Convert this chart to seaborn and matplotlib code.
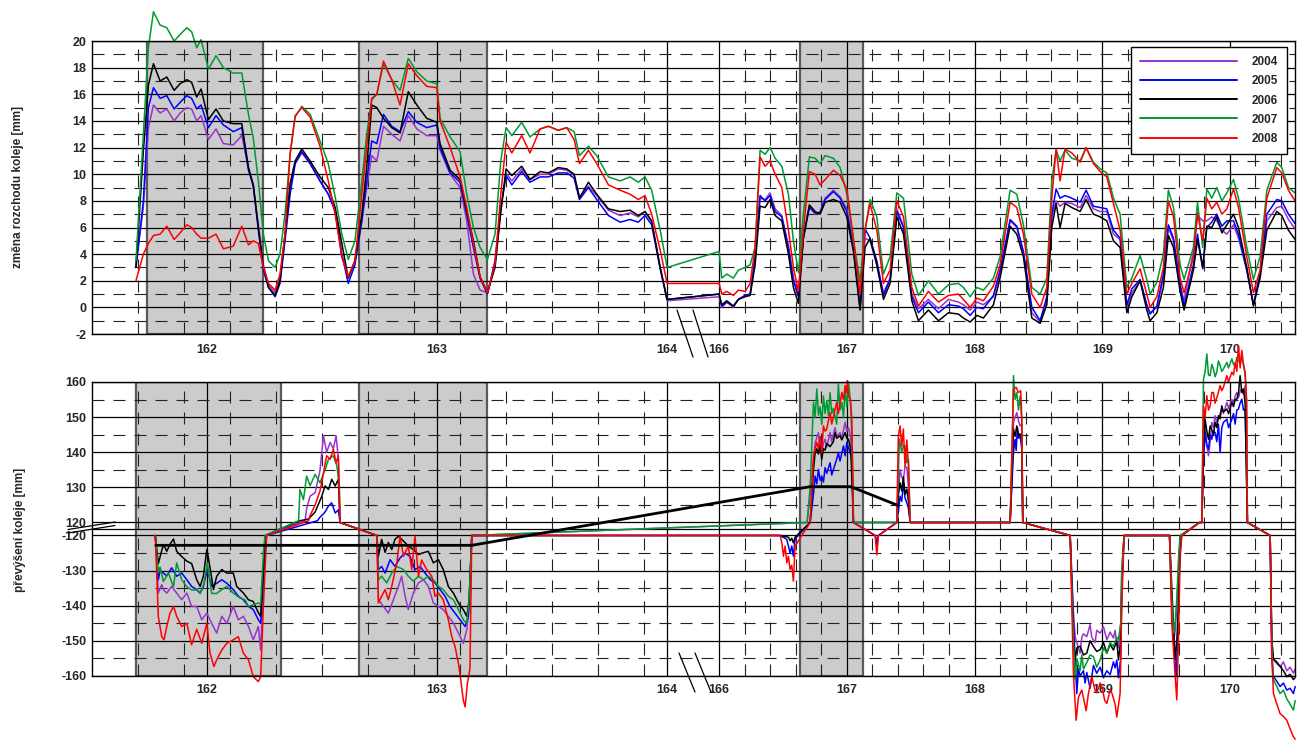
import numpy as np
import pandas as pd
import matplotlib
matplotlib.use("Agg")
import matplotlib.pyplot as plt
from matplotlib.lines import Line2D
import seaborn as sns

years = ["2004", "2005", "2006", "2007", "2008"]
colors = ["#9933cc", "#0000ff", "#000000", "#009933", "#ff0000"]

# --- top panel: track gauge change [mm], one shared km grid ---
km_top = [161.691, 161.723, 161.745, 161.767, 161.796, 161.825, 161.857, 161.883, 161.912, 161.933,
          161.955, 161.974, 162.006, 162.039, 162.071, 162.114, 162.151, 162.180, 162.201, 162.223,
          162.245, 162.267, 162.296, 162.317, 162.339, 162.361, 162.383, 162.412, 162.448, 162.491,
          162.527, 162.557, 162.586, 162.614, 162.643, 162.673, 162.694, 162.716, 162.738, 162.767,
          162.803, 162.839, 162.875, 162.912, 162.955, 162.999,
          163.013, 163.057, 163.100, 163.129, 163.158, 163.187, 163.219, 163.252, 163.277, 163.300,
          163.325, 163.368, 163.404, 163.448, 163.484, 163.527, 163.564, 163.596, 163.619, 163.658,
          163.694, 163.745, 163.796, 163.839, 163.875, 163.904, 163.933, 163.970, 164.001,
          166.000, 166.021, 166.060, 166.112, 166.151, 166.204, 166.243, 166.282, 166.321, 166.360,
          166.399, 166.439, 166.491, 166.543, 166.582, 166.621, 166.660, 166.707, 166.752, 166.791,
          166.830, 166.895, 166.948, 167.000, 167.052, 167.104, 167.143, 167.182, 167.235, 167.287,
          167.339, 167.392, 167.444, 167.509, 167.561, 167.639, 167.718, 167.796, 167.874, 167.913,
          167.966, 168.018, 168.070,
          168.148, 168.200, 168.279, 168.331, 168.383, 168.449, 168.514, 168.566, 168.605, 168.639,
          168.670, 168.709, 168.762, 168.827, 168.874, 168.931, 168.984, 169.036, 169.088, 169.140,
          169.193, 169.232, 169.297, 169.349, 169.375, 169.428, 169.479, 169.518, 169.558, 169.610,
          169.641, 169.714, 169.746, 169.787, 169.819, 169.858, 169.897, 169.937, 169.976, 170.028,
          170.067, 170.132, 170.184, 170.236, 170.289, 170.367, 170.406, 170.458, 170.510]

gauge_2004 = [3.2, 7.5, 13.5, 15.2, 14.6, 14.9, 14.0, 14.6, 15.0, 14.9,
              14.0, 14.4, 12.6, 13.4, 12.3, 12.2, 12.9, 10.5, 9.0, 6.2,
              3.2, 1.7, 1.1, 2.0, 5.3, 8.8, 10.8, 11.6, 10.8, 9.5,
              8.5, 7.3, 3.8, 2.3, 3.5, 6.5, 9.0, 11.4, 11.0, 13.6,
              13.0, 12.5, 14.4, 13.4, 12.9, 12.9,
              11.8, 10.0, 9.0, 6.5, 2.5, 1.3, 1.1, 3.2, 7.2, 10.1,
              9.5, 10.4, 9.6, 10.0, 10.0, 10.4, 10.3, 9.9, 8.3, 9.1,
              8.4, 7.3, 6.9, 7.1, 6.8, 7.2, 6.4, 3.0, 0.5,
              0.8, 0.0, 0.4, 0.0, 0.6, 0.9, 1.0, 3.6, 8.2, 8.1,
              8.6, 7.4, 6.9, 4.6, 2.2, 0.9, 5.3, 7.6, 7.0, 7.2,
              8.2, 8.8, 8.3, 7.4, 4.6, 0.0, 5.2, 5.0, 3.2, 1.1,
              2.2, 7.4, 6.1, 1.0, -0.1, 0.6, -0.1, 0.6, 0.4, 0.2,
              -0.2, 0.4, 0.2,
              0.8, 2.5, 6.5, 6.0, 4.1, -0.4, -1.1, 0.5, 6.8, 8.0,
              7.6, 7.9, 7.8, 7.5, 8.4, 7.4, 7.2, 7.2, 5.5, 5.1,
              0.0, 1.1, 2.0, 0.1, -0.4, 0.0, 2.2, 6.0, 5.0, 1.6,
              0.5, 4.2, 6.9, 6.5, 6.5, 6.8, 6.5, 5.8, 5.5, 6.2,
              5.2, 2.8, 0.2, 2.5, 6.5, 7.5, 7.6, 6.6, 5.9]

gauge_2005 = [3.0, 8.0, 15.0, 16.5, 15.7, 15.9, 14.9, 15.4, 15.9, 15.7,
              14.9, 15.2, 13.5, 14.4, 13.7, 13.2, 13.5, 10.3, 9.2, 5.8,
              2.8, 1.5, 0.8, 1.8, 5.0, 8.5, 10.8, 11.7, 10.8, 9.5,
              8.5, 7.2, 4.0, 1.8, 3.2, 6.5, 9.5, 12.5, 12.3, 14.5,
              13.6, 13.2, 14.7, 13.9, 13.5, 13.7,
              12.0, 10.1, 9.4, 7.0, 4.5, 2.2, 1.0, 3.5, 7.5, 9.9,
              9.2, 10.2, 9.4, 9.8, 9.8, 10.1, 10.1, 9.7, 8.1, 9.0,
              8.1, 6.9, 6.4, 6.6, 6.4, 6.9, 6.2, 2.9, 0.6,
              1.0, 0.1, 0.4, 0.1, 0.6, 0.9, 1.0, 3.8, 8.4, 8.0,
              8.4, 7.2, 6.8, 4.5, 2.0, 0.8, 5.2, 7.5, 7.1, 7.1,
              8.1, 8.7, 8.2, 7.2, 4.5, -0.1, 5.9, 5.2, 3.5, 0.9,
              2.1, 7.2, 6.0, 0.8, -0.4, 0.4, -0.4, 0.2, 0.1, -0.1,
              -0.6, 0.0, -0.1,
              0.9, 2.8, 6.6, 6.1, 4.2, 0.0, -1.0, 0.8, 7.0, 8.9,
              8.2, 8.4, 8.2, 7.9, 8.8, 7.6, 7.5, 7.4, 5.8, 5.2,
              0.2, 1.4, 2.1, 0.2, -0.5, 0.1, 2.5, 6.2, 5.2, 1.8,
              0.1, 3.2, 5.5, 2.9, 6.0, 6.4, 7.0, 6.1, 6.5, 6.5,
              5.5, 2.8, 0.2, 2.5, 7.0, 8.1, 8.0, 7.0, 6.3]

gauge_2006 = [3.0, 11.7, 16.7, 18.3, 17.0, 17.3, 16.3, 16.8, 17.1, 16.9,
              15.8, 16.4, 14.1, 14.9, 14.0, 13.8, 13.8, 10.5, 9.2, 6.0,
              3.0, 1.5, 0.9, 2.0, 5.5, 9.3, 11.0, 11.9, 11.0, 9.8,
              9.0, 7.5, 4.8, 2.2, 3.5, 7.0, 10.5, 15.2, 15.0, 14.2,
              13.5, 13.1, 16.2, 15.2, 14.2, 13.9,
              12.3, 10.3, 9.6, 7.2, 5.0, 2.3, 1.1, 3.0, 7.2, 10.4,
              9.9, 10.6, 9.6, 10.2, 10.1, 10.5, 10.4, 10.0, 8.2, 9.4,
              8.5, 7.4, 7.2, 7.3, 6.9, 7.2, 6.5, 3.0, 0.6,
              1.0, 0.2, 0.5, 0.1, 0.6, 0.8, 0.9, 3.2, 7.6, 7.5,
              8.1, 6.9, 6.5, 4.0, 1.5, 0.3, 5.2, 7.7, 7.2, 7.0,
              7.9, 8.1, 7.9, 6.8, 4.2, -0.2, 4.5, 5.2, 3.2, 0.6,
              1.8, 6.8, 5.5, 0.5, -1.0, -0.2, -1.0, -0.4, -0.5, -0.8,
              -1.1, -0.6, -0.8,
              0.2, 2.2, 6.1, 5.5, 3.8, -0.8, -1.2, 0.2, 6.0, 7.8,
              6.0, 7.8, 7.5, 7.2, 8.1, 7.0, 6.8, 6.5, 5.0, 4.5,
              -0.4, 0.8, 2.0, -0.2, -1.0, -0.4, 1.5, 5.4, 4.5, 1.2,
              -0.2, 2.8, 5.1, 3.0, 6.1, 6.0, 6.8, 5.6, 6.2, 7.0,
              6.0, 3.0, 0.1, 2.2, 5.8, 7.2, 6.9, 5.8, 5.1]

gauge_2007 = [3.5, 13.0, 19.5, 22.2, 21.2, 21.0, 20.0, 20.5, 21.0, 20.7,
              19.5, 20.1, 17.9, 18.9, 18.0, 17.6, 17.6, 14.5, 12.7, 9.5,
              5.5, 3.5, 3.0, 4.0, 7.0, 11.5, 14.3, 15.1, 14.5, 12.5,
              10.8, 8.3, 5.5, 3.6, 5.0, 9.5, 13.0, 15.6, 16.0, 18.3,
              17.1, 16.3, 18.7, 17.7, 17.0, 16.8,
              14.2, 12.8, 11.7, 8.5, 6.0, 4.5, 3.6, 5.5, 11.0, 13.5,
              12.9, 13.9, 12.8, 13.4, 13.6, 13.3, 13.5, 13.2, 11.4, 12.1,
              11.4, 9.8, 9.5, 9.8, 9.4, 9.8, 8.8, 5.8, 3.0,
              4.2, 2.2, 2.5, 2.2, 2.8, 3.0, 3.2, 4.5, 11.8, 11.5,
              12.0, 11.2, 10.6, 8.5, 5.0, 2.6, 7.0, 11.3, 11.2, 10.8,
              11.4, 11.2, 10.5, 8.5, 5.0, 2.0, 5.8, 8.1, 6.8, 2.5,
              3.8, 8.6, 8.2, 2.5, 0.9, 2.0, 1.0, 1.7, 1.8, 1.5,
              0.8, 1.5, 1.3,
              2.2, 3.8, 8.8, 8.5, 6.2, 1.5, 1.0, 2.2, 9.5, 11.8,
              11.0, 11.8, 11.2, 11.0, 12.0, 10.9, 10.4, 10.1, 8.2, 7.0,
              1.5, 2.2, 3.9, 2.1, 1.0, 1.9, 4.0, 8.8, 7.5, 3.2,
              2.1, 4.5, 7.9, 4.5, 8.9, 8.2, 9.0, 8.0, 8.6, 9.6,
              8.2, 4.5, 2.1, 3.8, 8.8, 10.9, 10.5, 9.0, 8.6]

gauge_2008 = [2.0, 4.0, 4.8, 5.4, 5.5, 6.1, 5.1, 5.6, 6.2, 6.0,
              5.5, 5.2, 5.2, 5.5, 4.4, 4.6, 6.1, 4.7, 5.0, 4.8,
              3.0, 1.8, 1.3, 2.5, 5.5, 11.5, 14.4, 15.0, 14.3, 12.1,
              9.5, 7.0, 3.8, 2.3, 3.5, 8.5, 12.0, 15.7, 16.0, 18.5,
              17.1, 15.2, 18.3, 17.4, 16.6, 16.5,
              14.0, 12.0, 9.8, 7.5, 4.8, 2.3, 1.1, 3.3, 8.5, 12.4,
              11.6, 12.9, 11.6, 13.4, 13.6, 13.3, 13.5, 12.6, 10.8, 11.8,
              10.8, 9.2, 8.8, 8.5, 8.1, 8.4, 7.0, 4.3, 1.8,
              1.8, 1.0, 1.2, 0.9, 1.3, 1.2, 1.8, 4.5, 11.3, 10.6,
              11.0, 10.0, 9.0, 5.8, 3.0, 1.2, 5.8, 10.2, 10.0, 9.2,
              9.6, 10.3, 9.9, 8.9, 5.2, 1.0, 5.8, 7.8, 5.8, 1.8,
              2.8, 8.0, 6.8, 1.5, 0.1, 1.2, 0.4, 0.9, 1.0, 0.6,
              0.0, 0.7, 0.5,
              1.6, 3.2, 7.9, 7.5, 5.5, 1.0, 0.0, 1.5, 8.2, 11.9,
              9.5, 11.9, 11.6, 10.9, 12.0, 10.8, 10.2, 9.8, 7.8, 5.8,
              1.0, 1.8, 2.9, 1.0, 0.0, 0.8, 3.0, 8.0, 6.8, 2.2,
              1.1, 3.8, 7.1, 5.0, 8.2, 7.4, 7.9, 7.0, 7.4, 8.9,
              7.5, 3.8, 1.1, 2.8, 8.2, 10.5, 10.1, 8.8, 8.0]

# --- bottom panel: cant [mm], one km list per year ---
cant_km_2004 = [161.775, 161.788, 161.803, 161.810, 161.825, 161.846, 161.868, 161.890, 161.912, 161.933,
                161.955, 161.977, 161.999, 162.020, 162.042, 162.064, 162.086, 162.114, 162.136, 162.158,
                162.180, 162.201, 162.223, 162.233, 162.245, 162.255, 162.426,
                162.433, 162.448, 162.470, 162.491, 162.506, 162.520, 162.535, 162.549, 162.561, 162.571, 162.578, 162.738,
                162.745, 162.767, 162.788, 162.810, 162.832, 162.846, 162.861, 162.875, 162.897, 162.919,
                162.941, 162.962, 162.984, 163.006, 163.027, 163.049, 163.071, 163.093, 163.114, 163.129, 163.140, 163.151,
                166.689,
                166.713, 166.752, 166.765, 166.778, 166.791, 166.804, 166.817, 166.830, 166.843, 166.869,
                166.882, 166.908, 166.921, 166.947, 166.961, 166.987, 167.000, 167.013, 167.031, 167.046, 167.052,
                167.222, 167.235, 167.248, 167.391,
                167.404, 167.417, 167.430, 167.443, 167.456, 167.470, 167.483, 167.496,
                168.279, 168.300, 168.305, 168.318, 168.331, 168.344, 168.357, 168.370, 168.378, 168.749,
                168.775, 168.788, 168.801, 168.827, 168.840, 168.853, 168.879, 168.905, 168.918, 168.944,
                168.957, 168.984, 169.010, 169.036, 169.062, 169.088, 169.101, 169.114, 169.127, 169.145, 169.153, 169.171,
                169.527, 169.545, 169.558, 169.571, 169.584, 169.600, 169.615, 169.761, 169.780,
                169.793, 169.806, 169.819, 169.832, 169.845, 169.858, 169.871, 169.884, 169.897, 169.910,
                169.923, 169.936, 169.949, 169.976, 169.989, 170.015, 170.028, 170.041, 170.054, 170.067,
                170.080, 170.093, 170.106, 170.119, 170.130, 170.137,
                170.315, 170.328, 170.341, 170.367, 170.393, 170.419, 170.445, 170.471, 170.497, 170.511]
cant_2004 = [-120, -136.4, -134, -135.4, -136.4, -134.5, -136.4, -138.3, -136.4, -140.2,
             -140.2, -144, -142.1, -145, -147.8, -143, -145, -140.2, -144, -143,
             -145.9, -149.7, -145.9, -152.6, -135, -120, 120.5,
             124, 127.5, 128.5, 134.8, 144.7, 140, 142.8, 141, 144.7, 138, 120, -120,
             -138.3, -140.2, -142.1, -138.3, -134.5, -131.6, -137.3, -141.1, -136.4, -133.5,
             -132.6, -134.5, -139.2, -140.2, -141.1, -143, -144.9, -147.8, -150.7, -146.9, -140, -120,
             120,
             128, 142.8, 144, 145.6, 141, 139.9, 142.5, 143.7, 141.5, 145.6,
             143, 147, 144.5, 145.6, 144, 148.5, 146, 147, 144, 132, 120,
             -120, -121.5, -120, 120,
             128, 135.1, 133, 132.2, 136, 135.6, 130, 120,
             120, 140, 148.5, 150, 151.3, 149, 147.5, 148, 120, -120,
             -142, -148.8, -150.5, -153.5, -149, -148, -148.8, -145.4, -149, -150.5,
             -147, -147.8, -146, -149.7, -147.5, -149.2, -147, -151, -152, -145, -130, -120,
             -120, -140, -150.7, -147, -140, -126, -120, 120, 120,
             140, 146.6, 142, 139, 143, 148.5, 147, 150.4, 148.5, 149.5,
             151, 152.3, 151, 154.2, 152.5, 155, 154, 156, 157, 155.5,
             157.5, 158, 156.5, 159, 150, 120,
             -120, -150, -155.4, -156.5, -157.3, -156, -158.5, -157.5, -159.2, -158]

cant_km_2005 = [161.775, 161.788, 161.796, 161.810, 161.825, 161.846, 161.868, 161.890, 161.912, 161.933,
                161.955, 161.970, 161.984, 162.001, 162.020, 162.042, 162.064, 162.086, 162.114, 162.136,
                162.158, 162.180, 162.201, 162.223, 162.233, 162.245, 162.259, 162.480,
                162.491, 162.499, 162.513, 162.528, 162.542, 162.557, 162.571, 162.578, 162.738,
                162.745, 162.759, 162.774, 162.796, 162.817, 162.839, 162.861, 162.883, 162.904, 162.926,
                162.948, 162.970, 162.991, 163.013, 163.035, 163.056, 163.078, 163.100, 163.122, 163.136, 163.151,
                166.478, 166.530, 166.556, 166.569, 166.582, 166.595, 166.713,
                166.739, 166.752, 166.765, 166.778, 166.791, 166.804, 166.817, 166.830, 166.843, 166.869,
                166.882, 166.895, 166.921, 166.934, 166.947, 166.974, 166.987, 167.000, 167.026, 167.039, 167.052,
                167.222, 167.235, 167.248, 167.391,
                167.404, 167.417, 167.430, 167.443, 167.456, 167.470, 167.483, 167.496,
                168.279, 168.305, 168.318, 168.326, 168.336, 168.344, 168.357, 168.370, 168.378, 168.749,
                168.775, 168.801, 168.814, 168.827, 168.853, 168.866, 168.879, 168.905, 168.931, 168.957,
                168.984, 169.010, 169.036, 169.062, 169.088, 169.101, 169.114, 169.127, 169.145, 169.153, 169.171,
                169.527, 169.545, 169.558, 169.579, 169.590, 169.605, 169.620, 169.761, 169.780,
                169.793, 169.806, 169.819, 169.832, 169.845, 169.858, 169.871, 169.884, 169.897, 169.910,
                169.923, 169.936, 169.949, 169.976, 169.989, 170.015, 170.028, 170.041, 170.054, 170.067,
                170.080, 170.093, 170.106, 170.119, 170.137,
                170.315, 170.328, 170.341, 170.367, 170.393, 170.419, 170.445, 170.471, 170.497, 170.511]
cant_2005 = [-120, -132.6, -130, -130.7, -131.5, -129.2, -131.6, -130.7, -132.6, -134.5,
             -135.4, -136.4, -134.5, -129.7, -134.5, -133.6, -132.6, -133.6, -135.4, -137.3,
             -138.3, -140.2, -141.1, -144, -145, -132, -120, 120.5,
             121.5, 122, 123, 124.7, 125.6, 122.7, 123.6, 120, -120,
             -129.7, -128.8, -130.7, -126.9, -128.8, -126.4, -125, -126, -129.7, -128.8,
             -130.7, -132.6, -133.5, -135.4, -137.3, -140.2, -142.1, -144, -145.9, -143, -120,
             -120, -121.1, -125, -123, -125.9, -121, 120,
             128, 133.2, 131, 135.1, 132, 133.2, 131.5, 135.6, 134, 137,
             133.5, 135.1, 138, 139.9, 137.5, 141.8, 139, 142.8, 139.9, 138, 120,
             -120, -122.5, -120, 120,
             123, 127.5, 126, 131.3, 127, 125.6, 124, 120,
             120, 140, 143.7, 140.5, 147, 144, 144.5, 141, 120, -120,
             -145, -165, -158, -160, -158.5, -162, -159, -163.5, -157, -159.2,
             -157.5, -160.5, -158.5, -159.6, -156, -157.7, -155.5, -160.5, -155, -135, -120,
             -120, -140, -150, -160.2, -150, -130, -120, 120, 120,
             138, 145.6, 142, 140.9, 145, 143.7, 146, 145.6, 143, 148,
             139.9, 147, 148.5, 149.4, 147, 149.4, 151, 148, 152, 152.3,
             154, 155.1, 152, 152.3, 120,
             -120, -155, -160.2, -161.5, -163, -162, -164, -163.5, -165, -163]

cant_km_2006 = [161.775, 161.788, 161.796, 161.810, 161.825, 161.839, 161.854, 161.868, 161.890, 161.912,
                161.933, 161.955, 161.970, 161.984, 161.999, 162.010, 162.028, 162.042, 162.064, 162.086,
                162.114, 162.129, 162.158, 162.180, 162.201, 162.223, 162.233, 162.245, 162.252, 162.404,
                162.441, 162.470, 162.499, 162.513, 162.528, 162.542, 162.557, 162.571, 162.578, 162.738,
                162.745, 162.759, 162.774, 162.788, 162.803, 162.817, 162.832, 162.854, 162.875, 162.897,
                162.919, 162.941, 162.962, 162.984, 163.006, 163.027, 163.049, 163.071, 163.093, 163.114,
                163.129, 163.140, 163.151,
                166.478, 166.543, 166.556, 166.569, 166.582, 166.595, 166.713,
                166.739, 166.752, 166.765, 166.778, 166.791, 166.804, 166.817, 166.830, 166.843, 166.869,
                166.895, 166.908, 166.921, 166.947, 166.961, 166.987, 167.000, 167.013, 167.031, 167.052,
                167.391, 167.404, 167.417, 167.430, 167.443, 167.456, 167.470, 167.483, 167.496,
                168.279, 168.305, 168.318, 168.331, 168.344, 168.357, 168.370, 168.378, 168.749,
                168.775, 168.788, 168.801, 168.827, 168.853, 168.879, 168.905, 168.931, 168.957, 168.984,
                169.010, 169.036, 169.062, 169.088, 169.114, 169.127, 169.145, 169.153, 169.171,
                169.527, 169.545, 169.558, 169.571, 169.584, 169.597, 169.610, 169.623, 169.761, 169.780,
                169.793, 169.806, 169.819, 169.832, 169.845, 169.858, 169.871, 169.884, 169.897, 169.910,
                169.923, 169.936, 169.949, 169.976, 169.989, 170.015, 170.028, 170.041, 170.054, 170.067,
                170.080, 170.093, 170.106, 170.119, 170.137,
                170.315, 170.328, 170.341, 170.367, 170.393, 170.419, 170.445, 170.471, 170.497, 170.511]
cant_2006 = [-120, -128, -126, -122.6, -124.5, -122.5, -121, -124.5, -126, -127.3,
             -128, -132.6, -134.5, -131.6, -124, -128, -135.4, -131.6, -129.7, -130.7,
             -130.7, -134.5, -136.4, -138.3, -138.8, -142, -143, -130, -120, 120.5,
             121, 123, 127.5, 130.4, 129.4, 132.3, 130.4, 132.3, 120, -120,
             -125.9, -121.1, -124.8, -122, -124, -121.1, -120.2, -121.6, -123, -124,
             -125.4, -124.9, -124.5, -127.8, -126.9, -129.7, -134.5, -136.4, -139.2, -141.1,
             -143, -138.3, -120,
             -120, -120.5, -121.5, -120.8, -122.1, -120.5, 120,
             135, 139.9, 141, 139.5, 142, 138, 141, 140.6, 142.5, 141.6,
             143, 145.6, 144, 144.7, 143.5, 145.6, 144, 143.7, 140.9, 120,
             120, 128, 131.3, 129, 133, 128, 129.5, 126, 120,
             120, 146.6, 144.5, 147.5, 145, 145.2, 144, 120, -120,
             -150, -155.4, -152, -151.5, -154, -153.5, -150, -151.6, -153, -152.5,
             -150.5, -153.5, -151, -152.6, -150, -155.4, -150, -135, -120,
             -120, -135, -145, -155.4, -150, -140, -120, -120, 120, 120,
             142, 149.4, 146, 143.7, 147.5, 146.5, 145, 148.5, 147, 150.4,
             149.5, 153.2, 151.5, 152.3, 151, 154.2, 153, 155, 155.1, 157,
             161.8, 157, 158, 154, 120,
             -120, -150, -155.2, -156, -157.3, -158.5, -160.2, -159.5, -161, -160.5]

cant_km_2007 = [161.775, 161.788, 161.796, 161.810, 161.832, 161.854, 161.868, 161.890, 161.912, 161.933,
                161.955, 161.970, 161.987, 162.001, 162.020, 162.042, 162.064, 162.086, 162.114, 162.143,
                162.165, 162.180, 162.201, 162.223, 162.233, 162.245, 162.252, 162.398,
                162.404, 162.419, 162.433, 162.448, 162.470, 162.491, 162.513, 162.528, 162.549, 162.564,
                162.575, 162.578, 162.738,
                162.745, 162.759, 162.781, 162.803, 162.825, 162.854, 162.875, 162.897, 162.919, 162.941,
                162.962, 162.984, 163.006, 163.027, 163.049, 163.071, 163.093, 163.114, 163.129, 163.140,
                163.151, 166.689,
                166.713, 166.739, 166.752, 166.765, 166.778, 166.791, 166.804, 166.817, 166.830, 166.843,
                166.856, 166.869, 166.882, 166.895, 166.921, 166.934, 166.947, 166.961, 166.974, 166.987,
                167.000, 167.013, 167.031, 167.046, 167.052,
                167.391, 167.412, 167.430, 167.443, 167.456, 167.470, 167.483, 167.496,
                168.279, 168.300, 168.305, 168.318, 168.331, 168.344, 168.357, 168.370, 168.378, 168.749,
                168.775, 168.788, 168.801, 168.827, 168.840, 168.853, 168.879, 168.905, 168.931, 168.957,
                168.984, 169.010, 169.036, 169.062, 169.088, 169.114, 169.127, 169.145, 169.153, 169.171,
                169.527, 169.545, 169.558, 169.571, 169.584, 169.600, 169.610, 169.761, 169.780,
                169.793, 169.806, 169.819, 169.832, 169.845, 169.858, 169.871, 169.884, 169.897, 169.910,
                169.923, 169.936, 169.949, 169.976, 169.989, 170.015, 170.028, 170.041, 170.054, 170.067,
                170.080, 170.093, 170.106, 170.119, 170.130, 170.137,
                170.315, 170.328, 170.341, 170.367, 170.393, 170.419, 170.445, 170.471, 170.497, 170.511]
cant_2007 = [-120, -130.7, -129, -133.1, -130.7, -134.6, -127.8, -132.6, -134.6, -135.5,
             -135.5, -136.5, -133.6, -127.8, -136.5, -136.5, -135.4, -134.5, -136.4, -137.8,
             -138.3, -140.2, -139.7, -139.2, -139.7, -125, -120, 120.5,
             129.4, 126.5, 133.2, 130.5, 133.7, 131.3, 135, 138, 139, 136.2,
             130.5, 120, -120,
             -132.6, -131.6, -133.5, -130.7, -128.8, -129.7, -131.6, -133, -131.6, -132.6,
             -131.6, -132.6, -134.5, -135.4, -137.3, -138.3, -141.1, -144, -145, -137.3,
             -120, 120,
             130, 154.2, 150, 158, 150.5, 153, 148, 156, 151, 154.7,
             150.5, 157, 151, 152.5, 148, 159.4, 152, 154.2, 150, 158,
             153, 160, 154, 135, 120,
             120, 143.7, 139.9, 142, 141.8, 137, 138, 120,
             120, 150, 161.8, 155, 157, 152, 156, 149, 120, -120,
             -150, -161, -155, -158.5, -154, -158, -156.2, -154, -154.5, -157.5,
             -155.4, -152, -153.5, -150.5, -151.6, -149, -149.7, -145, -130, -120,
             -120, -138, -147.8, -145, -138, -125, -120, 120, 120,
             160.9, 163, 168, 162, 161.8, 165, 163.7, 161.5, 162.8, 166,
             164.7, 163, 163.7, 165.6, 164, 166.6, 165, 164.7, 167, 166,
             165.6, 166.6, 165, 162, 155, 120,
             -120, -152, -161.1, -163, -165, -164, -166.5, -168, -169.7, -167]

cant_km_2008 = [161.775, 161.788, 161.796, 161.803, 161.813, 161.825, 161.839, 161.854, 161.868, 161.890,
                161.912, 161.933, 161.955, 161.977, 161.999, 162.013, 162.030, 162.042, 162.064, 162.086,
                162.114, 162.136, 162.158, 162.180, 162.201, 162.223, 162.233, 162.245, 162.259, 162.441,
                162.448, 162.470, 162.491, 162.506, 162.520, 162.535, 162.549, 162.561, 162.571, 162.578,
                162.738,
                162.745, 162.759, 162.774, 162.788, 162.803, 162.825, 162.839, 162.854, 162.875, 162.890,
                162.904, 162.919, 162.933, 162.955, 162.977, 162.991, 163.006, 163.027, 163.049, 163.064,
                163.078, 163.093, 163.103, 163.114, 163.122, 163.132, 163.143, 163.151,
                166.478, 166.491, 166.504, 166.517, 166.530, 166.543, 166.556, 166.569, 166.582, 166.595, 166.713,
                166.739, 166.765, 166.778, 166.791, 166.804, 166.817, 166.830, 166.843, 166.856, 166.869,
                166.882, 166.895, 166.921, 166.934, 166.961, 166.974, 166.987, 167.000, 167.005, 167.013,
                167.026, 167.039, 167.052,
                167.222, 167.235, 167.248, 167.391,
                167.404, 167.417, 167.430, 167.443, 167.456, 167.470, 167.483, 167.496,
                168.279, 168.300, 168.305, 168.326, 168.344, 168.362, 168.370, 168.378, 168.749,
                168.775, 168.796, 168.814, 168.840, 168.874, 168.892, 168.918, 168.944, 168.957, 168.984,
                168.997, 169.020, 169.036, 169.062, 169.075, 169.101, 169.114, 169.140, 169.153, 169.171,
                169.527, 169.545, 169.571, 169.584, 169.597, 169.610, 169.625, 169.761, 169.780,
                169.793, 169.806, 169.819, 169.832, 169.845, 169.858, 169.871, 169.884, 169.897, 169.910,
                169.923, 169.936, 169.949, 169.976, 169.989, 170.015, 170.028, 170.041, 170.054, 170.067,
                170.080, 170.093, 170.106, 170.119, 170.130, 170.137,
                170.315, 170.328, 170.341, 170.367, 170.393, 170.419, 170.445, 170.471, 170.497, 170.511]
cant_2008 = [-120, -143, -146, -148.8, -149.7, -145.9, -142.1, -140.2, -143, -145.9,
             -145, -151.1, -146.7, -150.7, -145, -153.5, -157.3, -155.4, -152.6, -150.7,
             -149.7, -148.8, -153.5, -155.4, -160.2, -161.6, -160.2, -140, -120, 120.5,
             122, 125, 129, 134, 139, 138, 140.9, 137, 139, 120,
             -120,
             -139.2, -137.3, -135.4, -138.3, -134.5, -127.8, -120.2, -125.9, -123, -129.7,
             -120.2, -131.6, -127, -129.7, -131.6, -137.3, -136.4, -138.3, -144, -148.8,
             -151.6, -156.4, -161.1, -166.9, -168.8, -162, -158, -120,
             -120, -122, -125.9, -123, -127.8, -125.9, -129.7, -128.5, -133, -123, 120,
             139, 142.8, 141, 144.5, 140, 147.5, 146, 146.6, 149, 151.3,
             148, 150, 154.2, 151, 157, 155, 159, 157, 160.4, 156,
             155, 150, 120,
             -120, -125.5, -120, 120,
             144.7, 147.5, 141.8, 146.6, 136, 143.5, 136, 120,
             120, 150, 158, 158.5, 157, 157.5, 150, 120, -120,
             -160, -172.6, -166, -164, -169.9, -165, -160.2, -164, -164.8, -162,
             -162.9, -167, -167.8, -164, -164.8, -168, -171.7, -165, -140, -120,
             -120, -145, -160, -166.8, -150, -125, -120, 120, 120,
             153.2, 150, 156.1, 152, 153.2, 157, 157, 154, 155.5, 157,
             159, 157.5, 158.5, 161.8, 160, 162.8, 162, 165.6, 163, 170.4,
             164, 169, 165, 162.8, 155, 120,
             -120, -155, -165, -168, -170.7, -171.5, -172.6, -175, -177.3, -178]

# thick black line of the design cant
design_km = [161.777, 163.151, 166.713, 167.031, 167.398]
design_cant = [-122.8, -122.8, 130.2, 130.2, 124.9]

# grey shaded sections (km from, km to)
shade_top = [(161.739, 162.243), (162.662, 163.216), (166.634, 167.130)]
shade_bottom = [(161.691, 162.322), (162.662, 163.216), (166.634, 167.130)]

tick_km = [162, 163, 164, 166, 167, 168, 169, 170]


# piecewise x axis: km 164-166 squeezed into a short gap
def km_fwd(km):
    km = np.asarray(km, dtype=float)
    return np.where(km <= 164, (km - 161.5) * 230.0,
                    np.where(km <= 166, 575.0 + (km - 164) * 26.0,
                             627.0 + (km - 166) * 127.7))


def km_inv(p):
    p = np.asarray(p, dtype=float)
    return np.where(p <= 575, 161.5 + p / 230.0,
                    np.where(p <= 627, 164 + (p - 575) / 26.0,
                             166 + (p - 627) / 127.7))


# broken cant axis: -120..120 squeezed into a thin band
def cant_fwd(v):
    v = np.asarray(v, dtype=float)
    return np.where(v >= 120, v - 116.3,
                    np.where(v <= -120, v + 120, (v + 120) * 3.7 / 240.0))


def cant_inv(p):
    p = np.asarray(p, dtype=float)
    return np.where(p >= 3.7, p + 116.3,
                    np.where(p <= 0, p - 120, p * 240.0 / 3.7 - 120))


sns.set_theme(style="white")
plt.rcParams["font.family"] = ["Liberation Sans", "DejaVu Sans"]
plt.rcParams["font.weight"] = "bold"
plt.rcParams["axes.unicode_minus"] = False

fig = plt.figure(figsize=(13, 7.4), dpi=100)
ax1 = fig.add_axes([0.0708, 0.5486, 0.9254, 0.3959])
ax2 = fig.add_axes([0.0708, 0.0865, 0.9254, 0.3973])

for ax in (ax1, ax2):
    ax.set_xscale("function", functions=(km_fwd, km_inv))
ax2.set_yscale("function", functions=(cant_fwd, cant_inv))

gauge = [gauge_2004, gauge_2005, gauge_2006, gauge_2007, gauge_2008]
cant_km = [cant_km_2004, cant_km_2005, cant_km_2006, cant_km_2007, cant_km_2008]
cant = [cant_2004, cant_2005, cant_2006, cant_2007, cant_2008]

for vals, c in zip(gauge, colors):
    sns.lineplot(x=km_top, y=vals, color=c, linewidth=1.1, estimator=None,
                 sort=False, legend=False, ax=ax1)
for xs, vals, c in zip(cant_km, cant, colors):
    sns.lineplot(x=xs, y=vals, color=c, linewidth=1.1, estimator=None,
                 sort=False, legend=False, ax=ax2)
sns.lineplot(x=design_km, y=design_cant, color="black", linewidth=2.0,
             estimator=None, sort=False, legend=False, ax=ax2)

for ax in (ax1, ax2):
    for ln in ax.lines:
        ln.set_clip_on(False)

for ax, spans in ((ax1, shade_top), (ax2, shade_bottom)):
    for a, b in spans:
        ax.axvspan(a, b, facecolor="#cccccc", edgecolor="#5a5a5a", lw=1.6, zorder=0.2)

minor_km = [round(161.5 + 0.2 * i, 1) for i in range(1, 13)] + \
           [round(166 + 0.2 * i, 1) for i in range(1, 23)]
minor_km = [k for k in minor_km if abs(k - round(k)) > 1e-6]

dash = (0, (10.8, 8.1))
for ax in (ax1, ax2):
    ax.set_xlim(161.5, 170.51)
    ax.set_xticks(tick_km)
    ax.set_xticklabels([str(k) for k in tick_km])
    ax.set_xticks(minor_km, minor=True)
    ax.grid(which="major", color="black", lw=0.9, ls="-")
    ax.grid(which="minor", color="#222222", lw=0.8, ls=dash)
    ax.set_axisbelow(True)
    ax.tick_params(which="both", length=0, labelsize=9)
    ax.tick_params(axis="y", pad=4)
    for sp in ax.spines.values():
        sp.set_color("black")
        sp.set_linewidth(1.0)
    ax.set_xlabel("")
    ax.set_ylabel("")

ax1.set_ylim(-2, 20)
ax1.set_yticks(range(-2, 21, 2))
ax1.set_yticks(range(-1, 20, 2), minor=True)
ax1.tick_params(axis="x", pad=7.5)

ax2.set_ylim(-160, 160)
ax2.set_yticks([-160, -150, -140, -130, -120, 120, 130, 140, 150, 160])
ax2.set_yticks([-155, -145, -135, -125, 125, 135, 145, 155], minor=True)
ax2.tick_params(axis="x", pad=5.5)
ax2.axhline(0, color="black", lw=0.9, zorder=1)

handles = [Line2D([], [], color=c, lw=1.4) for c in colors]
leg = ax1.legend(handles, years, loc="upper right", bbox_to_anchor=(0.9934, 0.98),
                 borderaxespad=0, frameon=True, fancybox=False, framealpha=1,
                 edgecolor="black", handlelength=8.2, handletextpad=1.2,
                 labelspacing=0.6, borderpad=0.8,
                 prop={"weight": "bold", "size": 8.5})
leg.get_frame().set_linewidth(1.0)

fig.text(18 / 1300, 1 - 187 / 740, "změna rozchodu koleje [mm]", rotation=90,
         ha="center", va="center", fontsize=8.5, fontweight="bold")
fig.text(20 / 1300, 1 - 530 / 740, "převýšení koleje [mm]", rotation=90,
         ha="center", va="center", fontsize=8.5, fontweight="bold")


def px_line(x0, y0, x1, y1):
    fig.add_artist(Line2D([x0 / 1300, x1 / 1300], [1 - y0 / 740, 1 - y1 / 740],
                          transform=fig.transFigure, color="black", lw=0.9))


# break marks on the km axis and on the cant axis
px_line(677, 310, 693, 357)
px_line(693, 310, 708, 357)
px_line(679, 653, 695, 692)
px_line(695, 653, 711, 692)
px_line(68, 533, 115, 525.5)
px_line(68, 529.5, 115, 522)

fig.savefig("out.png", dpi=100)
